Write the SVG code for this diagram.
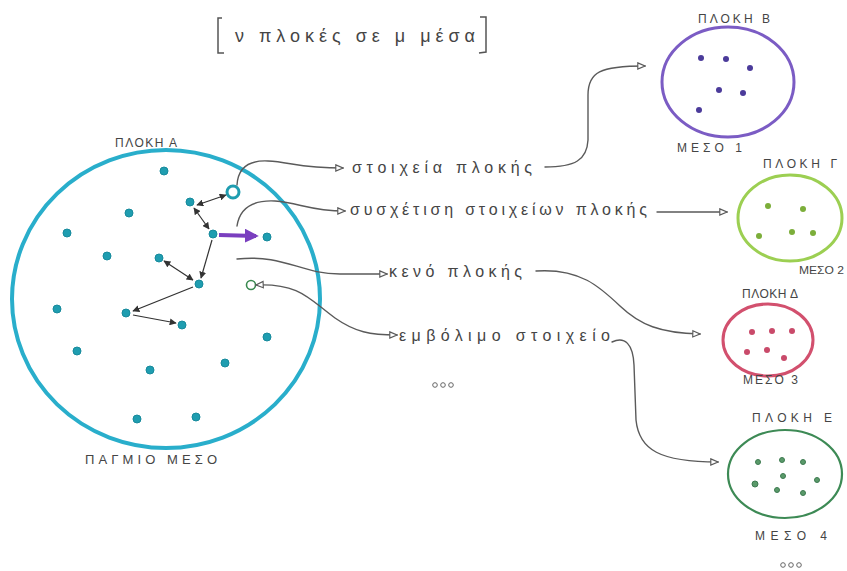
<svg xmlns="http://www.w3.org/2000/svg" width="847" height="571" viewBox="0 0 847 571">
  <defs>
    <style>
      .lbl { font-family: "Liberation Sans", "Noto Sans", sans-serif; fill: #454545; }
      .cap { font-size: 12px; }
      .txt { font-size: 16px; }
      .conn { fill: none; stroke: #5a5a5a; stroke-width: 1.4; stroke-linecap: round; }
      .step { fill: none; stroke: #333; stroke-width: 1.2; }
      .dotA { fill: #1f9db0; stroke: #178a9c; stroke-width: 1; }
    </style>
    <marker id="open" viewBox="0 0 10 10" refX="9" refY="5" markerWidth="9" markerHeight="9" markerUnits="userSpaceOnUse" orient="auto-start-reverse">
      <path d="M1,1.5 L9,5 L1,8.5 Z" fill="#fff" stroke="#5a5a5a" stroke-width="1.3"/>
    </marker>
    <marker id="tip" viewBox="0 0 10 10" refX="9" refY="5" markerWidth="7" markerHeight="7" markerUnits="userSpaceOnUse" orient="auto-start-reverse">
      <path d="M0,0 L10,5 L0,10 Z" fill="#333"/>
    </marker>
    <marker id="fat" viewBox="0 0 10 10" refX="8" refY="5" markerWidth="14" markerHeight="14" markerUnits="userSpaceOnUse" orient="auto">
      <path d="M0,0 L10,5 L0,10 Z" fill="#7a3fbf"/>
    </marker>
  </defs>
  <rect width="847" height="571" fill="#fff"/>

  <!-- title -->
  <g id="title">
    <path d="M222,18 L218,18 L218,53 L224,53" fill="none" stroke="#555" stroke-width="1.5"/>
    <path d="M480,17 L486,17 L486,52 L479,53" fill="none" stroke="#555" stroke-width="1.5"/>
    <text class="lbl" x="235" y="42" font-size="18" textLength="240" lengthAdjust="spacing">ν πλοκές σε μ μέσα</text>
  </g>

  <!-- main medium with plot A -->
  <g id="plotA">
    <ellipse cx="166" cy="299" rx="154" ry="149" fill="none" stroke="#29aecb" stroke-width="4"/>
    <text class="lbl cap" x="115" y="147" textLength="62" lengthAdjust="spacing">ΠΛΟΚΗ Α</text>
    <text class="lbl" x="85" y="464" font-size="13" textLength="132" lengthAdjust="spacing">ΠΑΓΜΙΟ ΜΕΣΟ</text>
    <g>
      <circle class="dotA" cx="164" cy="171" r="4"/>
      <circle class="dotA" cx="129" cy="213" r="4"/>
      <circle class="dotA" cx="67" cy="233" r="4"/>
      <circle class="dotA" cx="107" cy="256" r="4"/>
      <circle class="dotA" cx="159" cy="258" r="4"/>
      <circle class="dotA" cx="190" cy="202" r="4"/>
      <circle cx="233" cy="192" r="6" fill="#fff" stroke="#1f9db0" stroke-width="3"/>
      <circle class="dotA" cx="213" cy="234" r="4"/>
      <circle class="dotA" cx="267" cy="237" r="4"/>
      <circle class="dotA" cx="199" cy="284" r="4"/>
      <circle cx="251" cy="285" r="4.5" fill="#fff" stroke="#3a8a50" stroke-width="1.6"/>
      <circle class="dotA" cx="57" cy="309" r="4"/>
      <circle class="dotA" cx="126" cy="313" r="4"/>
      <circle class="dotA" cx="182" cy="325" r="4"/>
      <circle class="dotA" cx="267" cy="337" r="4"/>
      <circle class="dotA" cx="77" cy="351" r="4"/>
      <circle class="dotA" cx="225" cy="363" r="4"/>
      <circle class="dotA" cx="150" cy="370" r="4"/>
      <circle class="dotA" cx="137" cy="419" r="4"/>
      <circle class="dotA" cx="196" cy="417" r="4"/>
    </g>
    <!-- plot steps between elements -->
    <path class="step" d="M197,205 L226,195" marker-start="url(#tip)" marker-end="url(#tip)"/>
    <path class="step" d="M194,208 L209,229" marker-start="url(#tip)" marker-end="url(#tip)"/>
    <path class="step" d="M212,240 L201,278" marker-end="url(#tip)"/>
    <path class="step" d="M164,261 L193,280" marker-start="url(#tip)" marker-end="url(#tip)"/>
    <path class="step" d="M193,287 L133,311" marker-end="url(#tip)"/>
    <path class="step" d="M133,315 L176,323" marker-end="url(#tip)"/>
    <path d="M219,235 L256,236" fill="none" stroke="#7a3fbf" stroke-width="4" marker-end="url(#fat)"/>
  </g>

  <!-- plot B -->
  <g id="plotB">
    <ellipse cx="728" cy="82" rx="66" ry="55" fill="none" stroke="#7b5cc4" stroke-width="3"/>
    <text class="lbl cap" x="698" y="23" textLength="72" lengthAdjust="spacing">ΠΛΟΚΗ Β</text>
    <text class="lbl cap" x="677" y="152" textLength="65" lengthAdjust="spacing">ΜΕΣΟ 1</text>
    <g fill="#4b3b9a">
      <circle cx="701" cy="58" r="3"/>
      <circle cx="726" cy="59" r="3"/>
      <circle cx="750" cy="68" r="3"/>
      <circle cx="719" cy="90" r="3"/>
      <circle cx="743" cy="93" r="3"/>
      <circle cx="699" cy="110" r="3"/>
    </g>
  </g>

  <!-- plot Γ -->
  <g id="plotG">
    <ellipse cx="790" cy="218" rx="52" ry="43" fill="none" stroke="#9ccf52" stroke-width="3"/>
    <text class="lbl cap" x="763" y="168" textLength="74" lengthAdjust="spacing">ΠΛΟΚΗ Γ</text>
    <text class="lbl" x="799" y="274" font-size="11" textLength="45" lengthAdjust="spacingAndGlyphs">ΜΕΣΟ 2</text>
    <g fill="#7cae3a">
      <circle cx="768" cy="206" r="3"/>
      <circle cx="803" cy="209" r="3"/>
      <circle cx="792" cy="232" r="3"/>
      <circle cx="813" cy="233" r="3"/>
      <circle cx="759" cy="236" r="3"/>
    </g>
  </g>

  <!-- plot Δ -->
  <g id="plotD">
    <ellipse cx="768" cy="340" rx="45" ry="36" fill="none" stroke="#d2506e" stroke-width="3"/>
    <text class="lbl cap" x="742" y="298" textLength="56" lengthAdjust="spacing">ΠΛΟΚΗ Δ</text>
    <text class="lbl cap" x="743" y="384" textLength="55" lengthAdjust="spacing">ΜΕΣΟ 3</text>
    <g fill="#c94a6a">
      <circle cx="752" cy="332" r="3"/>
      <circle cx="772" cy="331" r="3"/>
      <circle cx="792" cy="331" r="3"/>
      <circle cx="747" cy="352" r="3"/>
      <circle cx="767" cy="350" r="3"/>
      <circle cx="784" cy="358" r="3"/>
    </g>
  </g>

  <!-- plot Ε -->
  <g id="plotE">
    <ellipse cx="785" cy="474" rx="57" ry="44" fill="none" stroke="#3d8a55" stroke-width="2.2"/>
    <text class="lbl cap" x="752" y="422" textLength="80" lengthAdjust="spacing">ΠΛΟΚΗ Ε</text>
    <text class="lbl cap" x="755" y="540" textLength="72" lengthAdjust="spacing">ΜΕΣΟ 4</text>
    <g fill="#5a9a6a" stroke="#3d7a50" stroke-width="1">
      <circle cx="758" cy="462" r="2.5"/>
      <circle cx="782" cy="460" r="2.5"/>
      <circle cx="803" cy="462" r="2.5"/>
      <circle cx="783" cy="476" r="2.5"/>
      <circle cx="817" cy="480" r="2.5"/>
      <circle cx="755" cy="484" r="3"/>
      <circle cx="777" cy="490" r="2.5"/>
      <circle cx="803" cy="493" r="2.5"/>
    </g>
    <g fill="none" stroke="#666" stroke-width="1">
      <circle cx="783" cy="565" r="2.3"/>
      <circle cx="791" cy="565" r="2.3"/>
      <circle cx="799" cy="565" r="2.3"/>
    </g>
  </g>

  <!-- labels of the plot parts -->
  <g id="labels">
    <text class="lbl txt" x="352" y="173" textLength="180" lengthAdjust="spacing">στοιχεία πλοκής</text>
    <text class="lbl txt" x="350" y="215" textLength="297" lengthAdjust="spacing">συσχέτιση στοιχείων πλοκής</text>
    <text class="lbl txt" x="389" y="277" textLength="133" lengthAdjust="spacing">κενό πλοκής</text>
    <text class="lbl txt" x="399" y="341" textLength="211" lengthAdjust="spacing">εμβόλιμο στοιχείο</text>
    <g fill="none" stroke="#666" stroke-width="1">
      <circle cx="435" cy="385" r="2.3"/>
      <circle cx="443" cy="385" r="2.3"/>
      <circle cx="451" cy="385" r="2.3"/>
    </g>
  </g>

  <!-- connectors -->
  <g id="connectors">
    <path class="conn" d="M237,185 C238,168 248,160 268,161 C290,162 300,168 343,168" marker-end="url(#open)"/>
    <path class="conn" d="M545,167 C575,167 587,160 588,140 L588,95 C588,72 600,66 645,66" marker-end="url(#open)"/>
    <path class="conn" d="M237,226 C240,206 255,200 275,201 C300,203 310,211 345,211" marker-end="url(#open)"/>
    <path class="conn" d="M657,212 L727,212" marker-end="url(#open)"/>
    <path class="conn" d="M237,259 C285,254 300,274 340,274 L387,274" marker-end="url(#open)"/>
    <path class="conn" d="M536,271 C580,268 600,287 620,306 C640,325 660,333 700,334" marker-end="url(#open)"/>
    <path class="conn" d="M256,285 C300,283 310,300 335,318 C355,332 370,335 397,335" marker-start="url(#open)" marker-end="url(#open)"/>
    <path class="conn" d="M612,342 C625,336 633,344 634,365 L636,420 C639,450 660,462 718,462" marker-end="url(#open)"/>
  </g>
</svg>
